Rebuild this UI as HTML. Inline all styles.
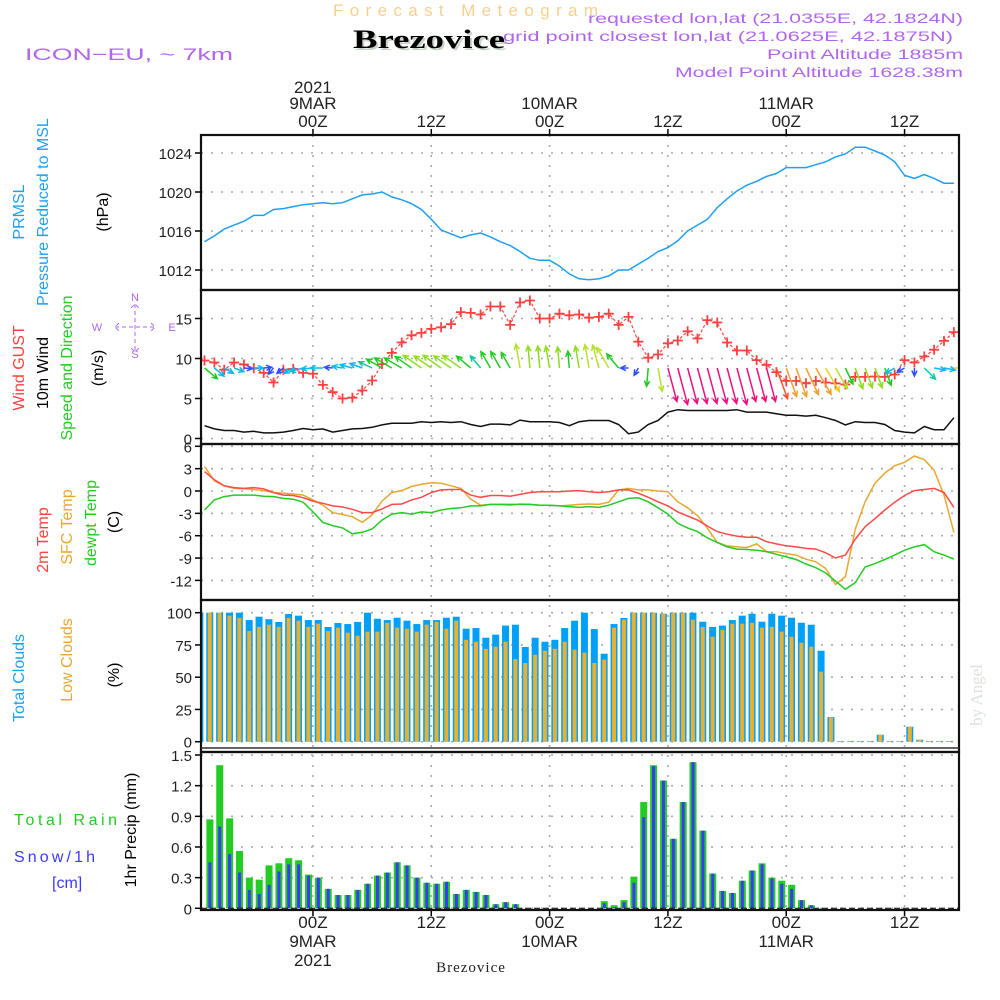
<!DOCTYPE html>
<html><head><meta charset="utf-8"><style>
html,body{margin:0;padding:0;background:#fff;}
svg{display:block;font-family:"Liberation Sans",sans-serif;}
</style></head><body>
<svg id="chart" width="1000" height="1000" viewBox="0 0 1000 1000" xmlns="http://www.w3.org/2000/svg">
<defs><clipPath id="plotclip"><rect x="201" y="135" width="758" height="775"/></clipPath></defs>
<rect width="1000" height="1000" fill="#fff"/>
<text x="333" y="16" fill="#f5d08e" font-size="17" textLength="265" lengthAdjust="spacing">Forecast Meteogram</text>
<text x="355" y="50" fill="#c8d4c8" font-family="Liberation Serif,serif" font-weight="bold" font-size="26" textLength="152" lengthAdjust="spacingAndGlyphs">Brezovice</text>
<text x="353" y="48" fill="#000" font-family="Liberation Serif,serif" font-weight="bold" font-size="26" textLength="152" lengthAdjust="spacingAndGlyphs">Brezovice</text>
<text x="25" y="60" fill="#b066ee" font-size="17" textLength="208" lengthAdjust="spacingAndGlyphs">ICON−EU, ~ 7km</text>
<g fill="#b066ee" font-size="14">
<text x="588" y="23" textLength="375" lengthAdjust="spacingAndGlyphs">requested lon,lat (21.0355E, 42.1824N)</text>
<text x="503" y="41" textLength="450" lengthAdjust="spacingAndGlyphs">grid point closest lon,lat (21.0625E, 42.1875N)</text>
<text x="767" y="59" textLength="196" lengthAdjust="spacingAndGlyphs">Point Altitude 1885m</text>
<text x="675" y="77" textLength="288" lengthAdjust="spacingAndGlyphs">Model Point Altitude 1628.38m</text>
</g>
<text transform="translate(982,695) rotate(-90)" text-anchor="middle" fill="#dde2dd" font-family="Liberation Serif,serif" font-size="17">by Angel</text>
<text x="471" y="972" text-anchor="middle" fill="#222" font-family="Liberation Serif,serif" font-size="15" letter-spacing="1">Brezovice</text>

<g font-size="16">
<text transform="translate(24,212) rotate(-90)" text-anchor="middle" fill="#1ea0f0">PRMSL</text>
<text transform="translate(48,212) rotate(-90)" text-anchor="middle" fill="#1ea0f0">Pressure Reduced to MSL</text>
<text transform="translate(108,212) rotate(-90)" text-anchor="middle" fill="#000">(hPa)</text>
<text transform="translate(24,368) rotate(-90)" text-anchor="middle" fill="#ff4040">Wind GUST</text>
<text transform="translate(48,373) rotate(-90)" text-anchor="middle" fill="#000">10m Wind</text>
<text transform="translate(72,368) rotate(-90)" text-anchor="middle" fill="#22cc22">Speed and Direction</text>
<text transform="translate(103,368) rotate(-90)" text-anchor="middle" fill="#000">(m/s)</text>
<text transform="translate(48,540) rotate(-90)" text-anchor="middle" fill="#ff4040">2m Temp</text>
<text transform="translate(72,527) rotate(-90)" text-anchor="middle" fill="#e8a830">SFC Temp</text>
<text transform="translate(96,523) rotate(-90)" text-anchor="middle" fill="#22cc22">dewpt Temp</text>
<text transform="translate(119,522) rotate(-90)" text-anchor="middle" fill="#000">(C)</text>
<text transform="translate(24,678) rotate(-90)" text-anchor="middle" fill="#1ea0f0">Total Clouds</text>
<text transform="translate(72,660) rotate(-90)" text-anchor="middle" fill="#e8a830">Low Clouds</text>
<text transform="translate(119,675) rotate(-90)" text-anchor="middle" fill="#000">(%)</text>
<text x="14" y="825" fill="#22cc22" textLength="103" lengthAdjust="spacing">Total  Rain</text>
<text x="14" y="862" fill="#3a3aff" textLength="81" lengthAdjust="spacing">Snow/1h</text>
<text x="52" y="888" fill="#3a3aff">[cm]</text>
<text transform="translate(136,830) rotate(-90)" text-anchor="middle" fill="#000">1hr Precip (mm)</text>
</g>
<g fill="#b066ee" stroke="none" font-size="11">
<text x="135" y="301" text-anchor="middle">N</text>
<text x="135" y="358" text-anchor="middle">S</text>
<text x="97" y="331" text-anchor="middle">W</text>
<text x="172" y="331" text-anchor="middle">E</text>
<path d="M135,304V352M115,327H155M131,308L135,304L139,308M131,348L135,352L139,348M119,323L115,327L119,331M151,323L155,327L151,331" stroke="#b066ee" stroke-dasharray="4,3" fill="none"/>
</g>
<g id="grid"></g>
<g id="marks" clip-path="url(#plotclip)"></g>
<g id="frames"></g>
<g id="labels" font-size="16" fill="#222"></g>
</svg>
<script>
// ---- data (hourly from 13Z 8 MAR) ----
const timeTickHours = [11, 23, 35, 47, 59, 71];
const timeTickLabels = ["00Z","12Z","00Z","12Z","00Z","12Z"];
const dateLabels = ["9MAR","","10MAR","","11MAR",""];
const yearLabels = ["2021","","","","",""];
const pressure = [1014.9,1015.5,1016.2,1016.6,1017.0,1017.6,1017.6,1018.2,1018.3,1018.5,1018.7,1018.8,1018.9,1018.8,1018.9,1019.3,1019.7,1019.8,1020.0,1019.5,1019.2,1018.8,1018.2,1017.2,1016.1,1015.7,1015.3,1015.6,1015.8,1015.4,1014.9,1014.5,1013.9,1013.2,1013.0,1013.0,1012.4,1011.6,1011.1,1011.0,1011.1,1011.4,1012.0,1012.0,1012.6,1013.2,1013.9,1014.3,1015.0,1016.0,1016.6,1017.2,1018.4,1019.3,1020.1,1020.7,1021.1,1021.6,1021.9,1022.5,1022.5,1022.5,1022.8,1023.1,1023.6,1023.9,1024.6,1024.6,1024.2,1023.8,1023.1,1021.7,1021.4,1021.8,1021.4,1020.9,1020.9];
const pressureTicks = [1024,1020,1016,1012];
const gust = [9.75,9.5,8.6,9.5,9.25,8.8,8.2,7.0,8.6,8.7,8.2,8.1,6.7,5.8,5.0,5.1,6.0,7.25,9.3,10.7,12.0,12.9,13.2,13.7,13.9,14.3,15.8,15.7,15.5,16.5,16.5,14.2,17.0,17.25,15.0,15.0,15.6,15.4,15.5,15.1,15.2,15.6,14.2,15.2,12.1,10.1,10.5,11.9,12.25,13.4,12.5,14.8,14.5,12.0,11.0,11.0,9.8,9.2,8.3,7.2,7.2,6.9,7.2,7.0,6.9,6.75,7.7,7.7,7.75,7.7,8.0,9.8,9.5,10.25,11.1,12.2,13.3];
const windSpeed = [1.6,1.2,1.0,1.0,0.8,0.9,0.7,0.7,0.8,1.0,1.25,1.1,1.2,0.8,1.0,1.2,1.25,1.4,1.7,1.9,1.9,1.9,2.1,2.0,2.1,2.0,2.1,1.75,1.5,1.8,1.8,1.7,2.3,2.1,2.1,2.1,2.0,1.6,2.1,2.25,2.25,2.25,1.75,0.6,0.8,1.75,2.25,3.3,3.6,3.5,3.5,3.5,3.5,3.5,3.6,3.3,3.3,3.3,3.1,2.9,2.9,2.8,2.9,2.6,2.25,1.7,2.1,2.0,2.0,1.75,1.0,0.8,0.7,1.5,1.1,1.1,2.6];
const windDirTo = [130,130,120,110,95,90,85,220,230,240,255,265,270,275,280,285,290,295,300,300,300,305,305,305,305,305,305,310,320,330,330,330,350,355,355,350,355,355,350,350,345,330,320,270,210,185,170,165,165,165,165,165,165,165,165,165,165,165,160,160,160,155,150,150,150,155,160,160,160,160,240,240,180,135,100,100,90];
const windTicks = [15,10,5,0];
const temp2m = [2.6,1.5,0.7,0.45,0.35,0.45,0.3,-0.2,-0.55,-0.6,-0.9,-1.35,-1.65,-2.0,-2.15,-2.45,-2.9,-2.9,-2.4,-1.8,-1.75,-1.2,-0.85,-0.2,0.15,0.2,0.2,-0.55,-0.85,-0.6,-0.6,-0.7,-0.45,-0.2,-0.1,-0.1,-0.1,0,0.05,-0.1,-0.2,-0.1,0.15,0.15,-0.3,-0.85,-1.45,-2.0,-2.8,-3.35,-3.9,-4.7,-5.45,-5.8,-6.05,-6.2,-6.2,-6.8,-7.1,-7.35,-7.5,-7.7,-7.8,-8.3,-9.0,-8.6,-6.45,-4.8,-3.7,-2.55,-1.5,-0.6,0.05,0.2,0.35,-0.2,-2.2];
const tempSfc = [3.3,1.35,0.7,0.35,0.3,0.2,0.05,-0.2,-0.3,-0.4,-0.55,-1.2,-1.9,-2.9,-3.15,-3.45,-4.2,-3.2,-1.35,-0.2,0.05,0.6,0.9,1.1,1.05,0.7,0.35,-1.1,-1.9,-1.8,-1.8,-1.9,-1.75,-1.8,-1.9,-1.9,-2.0,-1.9,-1.8,-1.75,-1.8,-1.5,0.15,0.35,0.15,0.15,0,-0.1,-1.45,-2.25,-3.3,-5.0,-6.9,-7.35,-7.5,-7.6,-7.1,-8.15,-8.15,-8.4,-8.6,-9.15,-9.5,-10.4,-12.55,-11.5,-5.1,-1.45,1.05,2.4,3.4,3.85,4.7,4.2,2.8,-0.55,-5.55];
const dewpt = [-2.55,-1.2,-0.75,-0.55,-0.55,-0.55,-0.7,-0.75,-1.0,-1.1,-1.5,-2.8,-4.2,-4.65,-4.95,-5.75,-5.55,-5.1,-3.9,-3.1,-2.9,-3.1,-2.8,-2.9,-2.55,-2.35,-2.25,-2.0,-2.0,-1.8,-1.8,-1.8,-1.8,-1.8,-1.9,-1.9,-2.0,-2.1,-2.2,-2.1,-2.2,-1.9,-1.45,-1.0,-0.9,-1.45,-2.25,-3.1,-4.35,-4.95,-5.45,-6.3,-6.9,-7.5,-7.8,-7.85,-7.95,-8.15,-8.5,-8.85,-9.2,-9.8,-10.3,-11.0,-12.1,-13.2,-12.3,-10.2,-9.75,-9.2,-8.6,-7.95,-7.5,-7.2,-8.15,-8.6,-9.15];
const tempTicks = [6,3,0,-3,-6,-9,-12];
const totalClouds = [100,100,100,100,100,94.3,96.9,95,92.8,99,97.7,94.3,94.3,88.9,92,91.2,92.8,100,95.3,94.3,96.1,93.8,91.2,94.3,94.3,96.1,96.9,87.6,88.1,80.6,83,90,90.7,73.4,80.6,77.5,79,88.1,93.8,100,87.3,68.2,91.2,95.9,100,100,100,99.2,100,100,100,93,89,90,94.3,97.7,99.2,93,99.2,97.7,96.1,92.2,90.7,70.5,19,0.5,0.5,0.5,0.5,5.4,0.5,0.5,11.6,1.5,0.5,0.5,0.5];
const lowClouds = [100,100,100,97.7,96,85.8,89,90.7,89,96,93.8,89,91.5,85.8,88.4,84.5,82.2,85.3,85.3,92.2,88.4,87.6,85.3,90.7,93,87.6,93.8,79,77.5,72,73.6,77.5,64,61,67.4,70.5,72,77.5,71.3,69,61,63.6,88.4,94.6,100,100,100,99.2,100,100,94.6,89,81.4,86.8,91.5,91.5,92.2,88.4,89,85.3,81.4,76.7,73.6,54.3,18.6,0.5,0.5,0.5,0.5,5.4,0.5,0.5,11.6,1.5,0.5,0.5,0.5];
const cloudTicks = [100,75,50,25,0];
const totalPrecip = [0.87,1.40,0.88,0.56,0.30,0.28,0.42,0.44,0.49,0.47,0.33,0.30,0.19,0.13,0.13,0.18,0.24,0.32,0.35,0.45,0.42,0.30,0.25,0.24,0.26,0.14,0.18,0.16,0.13,0.04,0.06,0.04,0,0,0,0,0,0,0,0,0.07,0.03,0.08,0.31,1.04,1.40,1.25,0.68,1.04,1.43,0.76,0.34,0.17,0.15,0.27,0.37,0.44,0.30,0.27,0.23,0.08,0.03,0.003,0,0,0,0,0,0,0,0,0,0,0,0,0];
const snowPrecip = [0.45,0.80,0.53,0.35,0.18,0.14,0.23,0.36,0.43,0.43,0.32,0.30,0.19,0.13,0.13,0.18,0.24,0.32,0.35,0.45,0.42,0.30,0.25,0.24,0.26,0.14,0.18,0.16,0.13,0.04,0.06,0.04,0,0,0,0,0,0,0,0,0.05,0.01,0.06,0.25,0.89,1.39,1.25,0.68,1.04,1.43,0.76,0.34,0.17,0.15,0.27,0.37,0.43,0.29,0.24,0.19,0.08,0.03,0.003,0,0,0,0,0,0,0,0,0,0,0,0,0];
const precipTicks = [1.5,1.2,0.9,0.6,0.3,0];
const precipTickLabels = ["1.5","1.2","0.9","0.6","0.3","0"];

// ---- axes ----
const X0 = 201, X1 = 959;
const xH = h => 204.5 + 9.86 * h;
const P = {
  p1: {top:135, bot:290, y: v => 153 + (1024 - v) * 9.75},
  p2: {top:290, bot:444, y: v => 438.5 - 8 * v},
  p3: {top:444, bot:600, y: v => 491 - 7.45 * v},
  p4: {top:600, bot:752, y: v => 741.7 - 1.29 * v},
  p5: {top:752, bot:910, y: v => 908.3 - 102.2 * v}
};
const NS = "http://www.w3.org/2000/svg";
function mk(tag, attrs, parent) {
  const e = document.createElementNS(NS, tag);
  for (const k in attrs) e.setAttribute(k, attrs[k]);
  parent.appendChild(e);
  return e;
}
const grid = document.getElementById('grid');
const marks = document.getElementById('marks');
const frames = document.getElementById('frames');
const labels = document.getElementById('labels');

function hGrid(panel, ticks, tickLabels, name) {
  ticks.forEach((t, i) => {
    const y = panel.y(t);
    const g = mk('line', {x1:X0, x2:X1, y1:y, y2:y, stroke:'#aaa', 'stroke-width':1.6, 'stroke-dasharray':'2,8'}, grid);
    
    
    const tk = mk('line', {x1:X0 - 6, x2:X0, y1:y, y2:y, stroke:'#000', 'stroke-width':1.5}, frames);
    
    
    const tx = mk('text', {x:X0 - 9, y:y + 6, 'text-anchor':'end', 'font-size':15}, labels);
    tx.textContent = tickLabels ? tickLabels[i] : String(t);
    
    
  });
}
hGrid(P.p1, pressureTicks, null, 'pressure');
hGrid(P.p2, windTicks, null, 'wind');
hGrid(P.p3, tempTicks, null, 'temp');
hGrid(P.p4, cloudTicks, null, 'cloud');
hGrid(P.p5, precipTicks, precipTickLabels, 'precip');

timeTickHours.forEach((h, i) => {
  const x = xH(h);
  const v = mk('line', {x1:x, x2:x, y1:135, y2:910, stroke:'#aaa', 'stroke-width':1.6, 'stroke-dasharray':'2,8'}, grid);
  
  
  const t1 = mk('line', {x1:x, x2:x, y1:129, y2:135, stroke:'#000', 'stroke-width':1.5}, frames);
  
  
  const t2 = mk('line', {x1:x, x2:x, y1:910, y2:916, stroke:'#000', 'stroke-width':1.5}, frames);
  
  
  const a = mk('text', {x:x, y:127, 'text-anchor':'middle', 'font-size':17}, labels);
  a.textContent = timeTickLabels[i];
  
  
  const b = mk('text', {x:x, y:928, 'text-anchor':'middle', 'font-size':17}, labels);
  b.textContent = timeTickLabels[i];
  
  
  if (dateLabels[i]) {
    const d = mk('text', {x:x, y:109, 'text-anchor':'middle', 'font-size':17}, labels);
    d.textContent = dateLabels[i];
    
    
    const d2 = mk('text', {x:x, y:947, 'text-anchor':'middle', 'font-size':17}, labels);
    d2.textContent = dateLabels[i];
    
    
  }
  if (yearLabels[i]) {
    const y1 = mk('text', {x:x, y:93, 'text-anchor':'middle', 'font-size':17}, labels);
    y1.textContent = yearLabels[i];
    
    
    const y2 = mk('text', {x:x, y:966, 'text-anchor':'middle', 'font-size':17}, labels);
    y2.textContent = yearLabels[i];
    
    
  }
});

function line(arr, panel, color, name, w) {
  const pts = arr.map((v, i) => xH(i).toFixed(1) + ',' + panel.y(v).toFixed(1)).join(' ');
  const l = mk('polyline', {points:pts, fill:'none', stroke:color, 'stroke-width':w || 1.5}, marks);
  
  
  return l;
}

// clouds
totalClouds.forEach((v, i) => {
  const cx = xH(i) - 4.6;
  const b = mk('rect', {x:cx - 3.5, y:P.p4.y(v), width:7, height:P.p4.y(0) - P.p4.y(v), fill:'#00a0f8'}, marks);
  
  
  const lv = lowClouds[i];
  const c = mk('rect', {x:cx - 2, y:P.p4.y(lv), width:4, height:P.p4.y(0) - P.p4.y(lv), fill:'#e8b030'}, marks);
  
  
});
// precip
totalPrecip.forEach((v, i) => {
  const cx = xH(i) + 5.4;
  if (cx > X1 - 3) return;
  const b = mk('rect', {x:cx - 3.5, y:P.p5.y(v), width:7, height:P.p5.y(0) - P.p5.y(v), fill:'#22cc22'}, marks);
  
  
  const s = snowPrecip[i];
  const c = mk('rect', {x:cx - 1.5, y:P.p5.y(s), width:3, height:P.p5.y(0) - P.p5.y(s), fill:'#3a3aff'}, marks);
  
  
});
const zl = mk('line', {x1:X0, x2:X1, y1:908.3, y2:908.3, stroke:'#000', 'stroke-width':1, 'stroke-dasharray':'6,3'}, marks);



line(pressure, P.p1, '#1ea0f0', 'pressure-line');
line(windSpeed, P.p2, '#111', 'wind-speed-line');
line(tempSfc, P.p3, '#e8a830', 'sfc-temp-line');
line(temp2m, P.p3, '#ff4848', '2m-temp-line');
line(dewpt, P.p3, '#22cc22', 'dewpt-line');

// gust
const gl = line(gust, P.p2, '#ff4848', 'gust-line', 1.2);
gl.setAttribute('stroke-dasharray', '3,2');
gust.forEach((v, i) => {
  const x = xH(i), y = P.p2.y(v);
  const m = mk('path', {d:`M${x-5},${y}H${x+5}M${x},${y-5}V${y+5}`, stroke:'#ff4040', 'stroke-width':1.8}, marks);
  
  
});

// wind arrows
function windColor(s) {
  if (s < 0.9) return '#3050ff';
  if (s < 1.3) return '#10b8f0';
  if (s < 1.6) return '#10c8a0';
  if (s < 2.0) return '#20cc20';
  if (s < 2.2) return '#90dd20';
  if (s < 2.5) return '#b8e030';
  if (s < 2.75) return '#e8d020';
  if (s < 3.0) return '#f0a030';
  if (s < 3.25) return '#ff5030';
  return '#f0107a';
}
windSpeed.forEach((s, i) => {
  const x = xH(i), y = 368;
  const len = Math.max(8, 10.5 * s);
  const a = windDirTo[i] * Math.PI / 180;
  const tx = x + len * Math.sin(a), ty = y - len * Math.cos(a);
  const h1 = a + Math.PI - 0.45, h2 = a + Math.PI + 0.45;
  const col = windColor(s);
  const d = `M${x},${y}L${tx},${ty}M${tx + 6*Math.sin(h1)},${ty - 6*Math.cos(h1)}L${tx},${ty}L${tx + 6*Math.sin(h2)},${ty - 6*Math.cos(h2)}`;
  const ar = mk('path', {d:d, stroke:col, 'stroke-width':1.5, fill:'none'}, marks);
  
  
});

// frames
['p1','p2','p3','p4','p5'].forEach(k => {
  const p = P[k];
  const f = mk('rect', {x:X0, y:p.top, width:X1 - X0, height:p.bot - p.top, fill:'none', stroke:'#111', 'stroke-width':2.2}, frames);
  
  
});
const dbl = mk('line', {x1:X0, x2:X1, y1:748, y2:748, stroke:'#333', 'stroke-width':1.5}, frames);


</script>
</body></html>
